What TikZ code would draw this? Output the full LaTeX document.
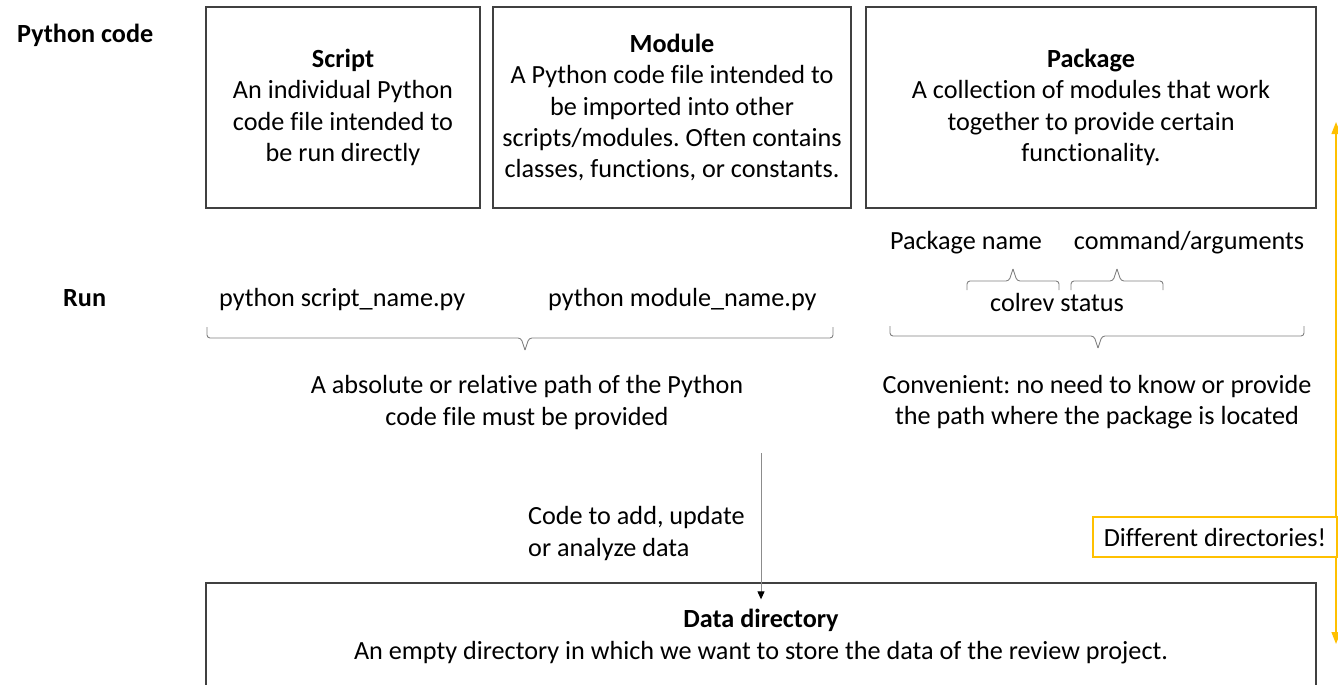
\documentclass[tikz,border=0pt]{standalone}
\usepackage{fontspec}
\setmainfont{Carlito}[Ligatures=NoCommon]
\usetikzlibrary{arrows.meta}
\definecolor{gold}{HTML}{FFC000}
\definecolor{boxline}{HTML}{404040}
\definecolor{braceline}{HTML}{7F7F7F}
\definecolor{arrowline}{HTML}{8C8C8C}
\frenchspacing
% #1 left x, #2 right x, #3 middle x, #4 y of ends, #5 y of bar, #6 y of tip
\newcommand\mybrace[6]{%
  \draw[brc] (#1,#4) -- (#1,#5) -- (#3-4,#5) -- (#3,#6);
  \draw[brc] (#2,#4) -- (#2,#5) -- (#3+4,#5) -- (#3,#6);
}
\begin{document}
\begin{tikzpicture}[x=1pt,y=-1pt,
  every node/.style={font=\fontsize{26.2}{31.3}\selectfont, inner sep=0pt, text=black},
  box/.style={draw=boxline, line width=1.3pt, align=center},
  txt/.style={align=center},
  lefttxt/.style={align=left, anchor=west},
  rowlabel/.style={font=\fontsize{26.2}{31.3}\selectfont\bfseries, anchor=west},
  brc/.style={draw=braceline, line width=0.9pt, rounded corners=3pt},
  flow/.style={draw=arrowline, line width=1pt, -{Triangle[length=8pt,width=7pt,black]}},
  goldarrow/.style={draw=gold, line width=1.4pt, {Triangle[length=12pt,width=9pt]}-{Triangle[length=12pt,width=9pt]}},
  goldbox/.style={draw=gold, line width=1.3pt, fill=white, align=center}
]
\useasboundingbox (0,0) rectangle (1338,685);

% row labels
\node[rowlabel] (lpy) at (17,35) {Python code};
\node[rowlabel] (lrun) at (63,298) {Run};

% top boxes
\node[box, minimum width=274pt, minimum height=201pt] (script) at (343,107.5)
  {\textbf{Script}\\An individual Python\\code file intended to\\be run directly};
\node[box, minimum width=358pt, minimum height=201pt] (module) at (672,107.5)
  {\textbf{Module}\\A Python code file intended to\\be imported into other\\scripts/modules. Often contains\\classes, functions, or constants.};
\node[box, minimum width=450pt, minimum height=201pt] (package) at (1091,107.5)
  {\textbf{Package}\\A collection of modules that work\\together to provide certain\\functionality.};

% run commands
\node[lefttxt] (runscript) at (219,300) {python script\_name.py};
\node[lefttxt] (runmodule) at (548,300) {python module\_name.py};
\node[txt] (pkgname) at (966,243) {Package name};
\node[txt] (cmdargs) at (1189,243) {command/arguments};
\node[txt] (colrev) at (1057,302) {colrev status};

% braces
\mybrace{967}{1059}{1013}{290}{281}{269}
\mybrace{1071}{1163}{1117}{290}{281}{269}
\mybrace{207}{833}{525}{327}{338}{350}
\mybrace{890}{1304}{1098}{326}{336}{348}

% explanations
\node[txt] (pathtxt) at (527,402.5) {A absolute or relative path of the Python\\code file must be provided};
\node[txt] (convtxt) at (1097,402.5) {Convenient: no need to know or provide\\the path where the package is located};

% data directory
\node[draw=boxline, line width=1.3pt, minimum width=1110pt, minimum height=120pt] (data) at (761,643) {};
\node[txt] (datatxt) at (761,636.5) {\textbf{Data directory}\\An empty directory in which we want to store the data of the review project.};

% code arrow
\coordinate (codestart) at (761,453);
\draw[flow] (codestart) -- ([yshift=-17pt]data.north);
\node[lefttxt] (codetxt) at (528,533.5) {Code to add, update\\or analyze data};

% different directories
\coordinate (gtop) at (1336,122);
\coordinate (gbot) at (1336,644);
\draw[goldarrow] (gtop) -- (gbot);
\node[goldbox, minimum width=244pt, minimum height=40pt] (diff) at (1215,537) {Different directories!};
\end{tikzpicture}
\end{document}
